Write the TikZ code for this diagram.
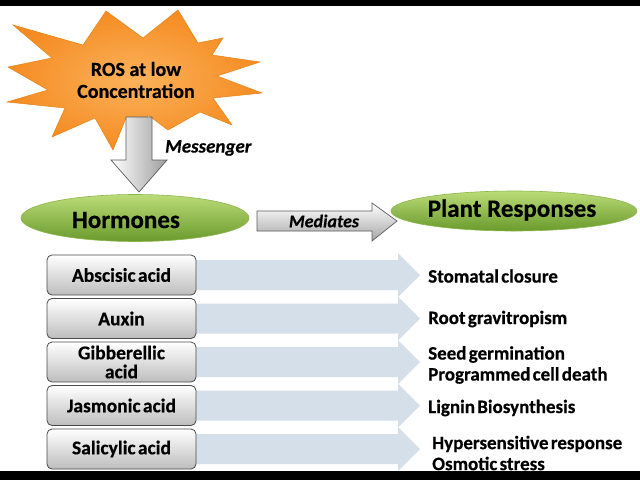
\documentclass[tikz,border=0pt]{standalone}
\usepackage{fontspec}
\setmainfont{Carlito}[BoldFeatures={FakeBold=0.4},BoldItalicFeatures={FakeBold=0.4}]
\usetikzlibrary{shapes.geometric}
\definecolor{starin}{HTML}{FBB25C}
\definecolor{starout}{HTML}{F58C22}
\definecolor{starline}{HTML}{E58316}
\definecolor{greentop}{HTML}{BBDC78}
\definecolor{greenbot}{HTML}{6A9A2C}
\definecolor{greenline}{HTML}{8DB64A}
\definecolor{bluearrow}{HTML}{D5DFEA}
\definecolor{boxbot}{HTML}{BDBDBD}
\definecolor{boxline}{HTML}{4A4A4A}
\newcommand\tightsp{\spaceskip 0.12em\relax}
\begin{document}
\begin{tikzpicture}[x=1pt,y=-1pt,
  greenell/.style={ellipse, draw=greenline, line width=0.6pt, top color=greentop, bottom color=greenbot, inner sep=0pt},
  hormbox/.style={draw=boxline, line width=0.8pt, rounded corners=5pt, top color=white, bottom color=boxbot,
     minimum width=149pt, minimum height=40pt, align=center, inner sep=0pt,
     font=\fontsize{19.5}{19}\selectfont\bfseries\tightsp},
  resp/.style={anchor=west, align=left, inner sep=0pt,
     font=\fontsize{19}{21}\selectfont\bfseries\tightsp},
  bluearr/.style={fill=bluearrow},
  grayarr/.style={draw=boxline!90, line width=0.7pt}]
\useasboundingbox (0,0) rectangle (640,480);
\fill[white] (0,0) rectangle (640,480);
\fill[black] (0,0) rectangle (640,6);
\fill[black] (0,471) rectangle (640,480);

% star
\draw[starline, line width=0.5pt, inner color=starin, outer color=starout]
  (13,25) -- (83,45) -- (106,11) -- (143,38) -- (178,10) -- (198,43) -- (223,38)
  -- (212,55) -- (260,62) -- (217,76) -- (262,93) -- (213,98) -- (232,125)
  -- (200,112) -- (168,130) -- (148,115) -- (138,140) -- (126,118) -- (113,150) -- (95,118)
  -- (52,137) -- (65,108) -- (7,102) -- (48,90) -- (8,67) -- (52,58) -- cycle;
\node[align=center, inner sep=0pt, font=\fontsize{20}{22}\selectfont\bfseries] (ros) at (136,80)
  {ROS at low\\Concentration};

% down arrow
\draw[grayarr, left color=white, right color=black!38]
  (126,117) -- (152,117) -- (152,160) -- (167,160) -- (139,192) -- (111,160) -- (126,160) -- cycle;
\node[font=\fontsize{19}{19}\selectfont\bfseries\itshape, anchor=west, inner sep=0pt] (msg) at (165,148) {Messenger};

% ellipses
\node[greenell, minimum width=228pt, minimum height=47pt] (horm) at (135,218) {};
\node[font=\fontsize{25}{25}\selectfont\bfseries, inner sep=0pt] (hormt) at (126,220) {Hormones};
\node[greenell, minimum width=246pt, minimum height=40pt] (plant) at (514,211) {};
\node[font=\fontsize{25}{25}\selectfont\bfseries, inner sep=0pt] (plantt) at (512,210) {Plant Responses};

% mediates arrow
\draw[grayarr, top color=white, bottom color=black!35]
  (257,211) -- (372,211) -- (372,203) -- (397,221) -- (372,241) -- (372,231) -- (257,231) -- cycle;
\node[font=\fontsize{18}{18}\selectfont\bfseries\itshape, inner sep=0pt] (med) at (324,221) {Mediates};

% blue arrows
\foreach \c in {275,318.5,362,405.5,449}{
  \fill[bluearr] (190,\c-15) -- (398,\c-15) -- (398,\c-22) -- (420,\c) -- (398,\c+22) -- (398,\c+15) -- (190,\c+15) -- cycle;
}

% hormone boxes
\node[hormbox] (b1) at (121.5,275) {Abscisic acid};
\node[hormbox] (b2) at (121.5,318.5) {Auxin};
\node[hormbox] (b3) at (121.5,362) {Gibberellic\\acid};
\node[hormbox] (b4) at (121.5,405.5) {Jasmonic acid};
\node[hormbox] (b5) at (121.5,449) {Salicylic acid};

% responses
\node[resp] (r1) at (428,276) {Stomatal closure};
\node[resp] (r2) at (428,319) {Root gravitropism};
\node[resp] (r3) at (428,365) {Seed germination\\Programmed cell death};
\node[resp] (r4) at (428,408) {Lignin Biosynthesis};
\node[resp] (r5) at (432,453) {Hypersensitive response\\Osmotic stress};
\end{tikzpicture}
\end{document}
